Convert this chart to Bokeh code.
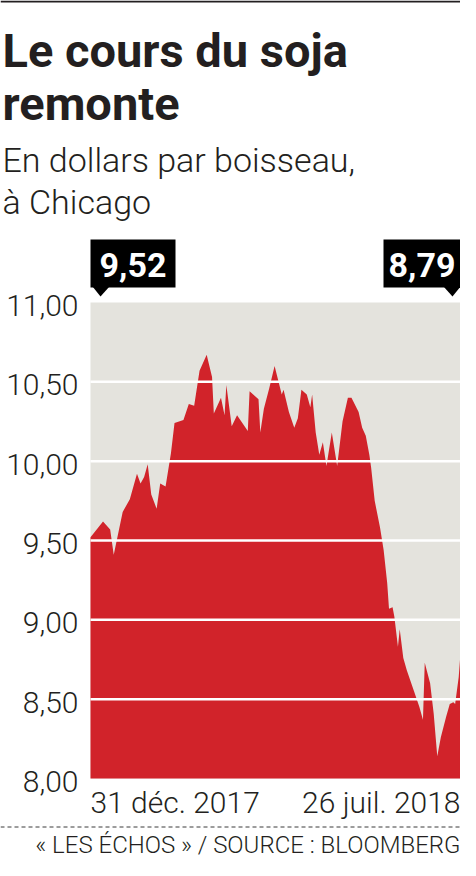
import pandas as pd
from bokeh.plotting import figure
from bokeh.models import Range1d
from bokeh.core.properties import value
from bokeh.embed import file_html
from bokeh.resources import INLINE

# ---------------- data ----------------
dates = [
    "2017-12-31", "2018-01-07", "2018-01-11", "2018-01-13", "2018-01-18",
    "2018-01-22", "2018-01-26", "2018-01-28", "2018-01-30", "2018-02-01",
    "2018-02-03", "2018-02-06", "2018-02-08", "2018-02-11", "2018-02-14",
    "2018-02-16", "2018-02-21", "2018-02-24", "2018-02-27", "2018-03-02",
    "2018-03-06", "2018-03-09", "2018-03-10", "2018-03-14", "2018-03-16",
    "2018-03-17", "2018-03-20", "2018-03-23", "2018-03-29", "2018-03-30",
    "2018-04-04", "2018-04-05", "2018-04-07", "2018-04-10", "2018-04-13",
    "2018-04-15", "2018-04-17", "2018-04-18", "2018-04-21", "2018-04-24",
    "2018-04-26", "2018-04-28", "2018-05-01", "2018-05-03", "2018-05-04",
    "2018-05-06", "2018-05-08", "2018-05-10", "2018-05-12", "2018-05-15",
    "2018-05-18", "2018-05-21", "2018-05-24", "2018-05-26", "2018-05-30",
    "2018-06-01", "2018-06-03", "2018-06-05", "2018-06-06", "2018-06-08",
    "2018-06-11", "2018-06-13", "2018-06-15", "2018-06-16", "2018-06-18",
    "2018-06-19", "2018-06-21", "2018-06-22", "2018-06-24", "2018-06-26",
    "2018-06-30", "2018-07-03", "2018-07-05", "2018-07-06", "2018-07-09",
    "2018-07-11", "2018-07-13", "2018-07-15", "2018-07-18", "2018-07-20",
    "2018-07-22", "2018-07-23", "2018-07-25", "2018-07-26",
]
prices = [
    9.52, 9.62, 9.57, 9.41, 9.68,
    9.76, 9.92, 9.86, 9.90, 9.98,
    9.79, 9.70, 9.86, 9.84, 10.05,
    10.24, 10.26, 10.36, 10.35, 10.57,
    10.67, 10.53, 10.30, 10.40, 10.29,
    10.48, 10.22, 10.29, 10.19, 10.44,
    10.39, 10.18, 10.33, 10.46, 10.60,
    10.51, 10.42, 10.45, 10.31, 10.21,
    10.27, 10.45, 10.42, 10.34, 10.42,
    10.18, 10.04, 10.12, 9.97, 10.18,
    9.97, 10.25, 10.40, 10.40, 10.31,
    10.21, 10.16, 10.04, 9.96, 9.75,
    9.58, 9.44, 9.23, 9.07, 9.08,
    9.02, 8.83, 8.94, 8.76, 8.68,
    8.55, 8.45, 8.37, 8.73, 8.60,
    8.41, 8.14, 8.26, 8.39, 8.47,
    8.48, 8.47, 8.64, 8.79,
]
y_ticks = [8.0, 8.5, 9.0, 9.5, 10.0, 10.5, 11.0]
y_tick_labels = ["8,00", "8,50", "9,00", "9,50", "10,00", "10,50", "11,00"]
x_tick_labels = ["31 déc. 2017", "26 juil. 2018"]
first_label = "9,52"
last_label = "8,79"
title_lines = ["Le cours du soja", "remonte"]
subtitle_lines = ["En dollars par boisseau,", "à Chicago"]
source_text = "« LES ÉCHOS » / SOURCE : BLOOMBERG"

# ---------------- layout / style ----------------
INK = "#231f20"
RED = "#d1232a"
PANEL = "#e4e3dd"
BOLD = "Roboto"
LIGHT = "Roboto Light"

W, H = 460, 860
PX0, PX1 = 90, 460      # pixel extent of the plotting panel
PY0, PY1 = 302, 778     # pixel rows of the top / bottom of the value axis

x = pd.to_datetime(dates)
span = x[-1] - x[0]
ms_px = span / (PX1 - PX0)
x_range = Range1d(x[0] - ms_px * PX0, x[-1] + ms_px * (W - PX1))
u_px = (y_ticks[-1] - y_ticks[0]) / (PY1 - PY0)
y_range = Range1d(y_ticks[0] - u_px * (H - PY1), y_ticks[-1] + u_px * PY0)

p = figure(width=W, height=H, output_backend="svg", toolbar_location=None,
           x_axis_location=None, y_axis_location=None,
           x_range=x_range, y_range=y_range,
           min_border=0, min_border_left=0, min_border_right=0,
           min_border_top=0, min_border_bottom=0)
p.title.visible = False
p.grid.visible = False
p.outline_line_color = None
p.background_fill_color = "white"
p.border_fill_color = "white"
p.extra_x_ranges = {"px": Range1d(0, W)}
p.extra_y_ranges = {"px": Range1d(H, 0)}
PXR = dict(x_range_name="px", y_range_name="px")

# panel, area, grid
p.quad(left=x[0], right=x[-1], bottom=y_ticks[0], top=y_ticks[-1],
       fill_color=PANEL, line_color=None)
p.varea(x=x, y1=y_ticks[0], y2=prices, fill_color=RED)
inner = y_ticks[1:-1]
p.segment(x0=[x[0]] * len(inner), x1=[x[-1]] * len(inner), y0=inner, y1=inner,
          line_color="white", line_width=2.5)

# y tick labels through the value scale
p.text(x=[78] * len(y_ticks), y=y_ticks, text=y_tick_labels, x_range_name="px",
       y_offset=3, text_font=value(LIGHT), text_font_size="30px",
       text_color=INK, text_align="right", text_baseline="middle")


def txt(s, px, py, size, bold=False, align="left", color=INK):
    # py is the vertical centre of the text line
    p.text(x=[px], y=[py], text=[s], **PXR,
           text_font=value(BOLD if bold else LIGHT),
           text_font_style="bold" if bold else "normal",
           text_font_size=f"{size}px", text_color=color,
           text_align=align, text_baseline="middle")


# top rule
p.segment(x0=[0], x1=[W], y0=[1], y1=[1], line_color=INK, line_width=2, **PXR)

# title / subtitle
txt(title_lines[0], 2, 50, 47, bold=True)
txt(title_lines[1], 2, 103, 47, bold=True)
txt(subtitle_lines[0], 2, 159, 34)
txt(subtitle_lines[1], 2, 201, 34)

# call-outs for first and last value
p.quad(left=[PX0, PX1 - 77], right=[PX0 + 85, PX1], top=[239, 239],
       bottom=[287, 287], fill_color="black", line_color=None, **PXR)
p.patches(xs=[[PX0 + 2, PX0 + 19, PX0 + 10], [PX1 - 17, PX1, PX1 - 8]],
          ys=[[286, 286, 296]] * 2, fill_color="black", line_color=None, **PXR)
txt(first_label, PX0 + 42.5, 264, 34, bold=True, align="center", color="white")
txt(last_label, PX1 - 38.5, 264, 34, bold=True, align="center", color="white")

# date labels
txt(x_tick_labels[0], PX0, 802, 30)
txt(x_tick_labels[1], PX1, 802, 30, align="right")

# dashed rule + source
p.segment(x0=[0], x1=[W], y0=[826.5], y1=[826.5], line_color="#3a3a3a",
          line_width=1, line_dash="4 3", **PXR)
txt(source_text, PX1, 844, 24, align="right")

open("out.html", "w").write(file_html(p, INLINE))
